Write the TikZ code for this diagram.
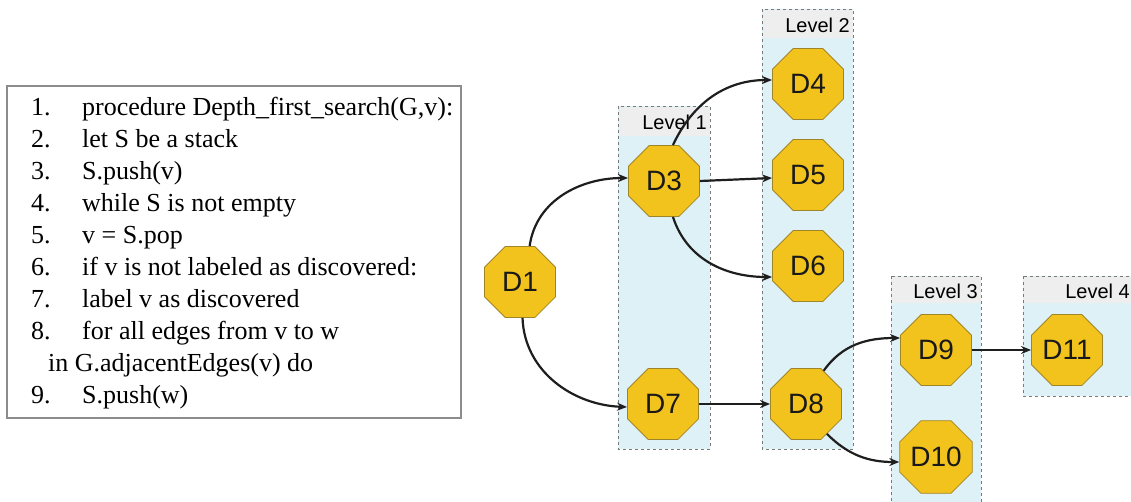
\documentclass[tikz,border=0pt]{standalone}
\usepackage{fontspec}
\setmainfont{Liberation Serif}
\setsansfont{Liberation Sans}
\usetikzlibrary{shapes.geometric,arrows.meta}
\definecolor{octfill}{HTML}{F3C31D}
\definecolor{octline}{HTML}{A08528}
\definecolor{lvlfill}{HTML}{DDF1F7}
\definecolor{lvlhead}{HTML}{EEEEEE}
\definecolor{lvlline}{HTML}{7A7A7A}
\definecolor{edgecol}{HTML}{1E1E1E}
\tikzset{
  oct/.style={regular polygon, regular polygon sides=8, minimum size=77pt, inner sep=0pt,
    fill=octfill, draw=octline, line width=0.8pt, text=black!90, font=\sffamily\fontsize{28}{28}\selectfont},
  lvlbox/.style={fill=lvlfill, draw=lvlline, dashed, line width=0.9pt},
  lvlhdr/.style={fill=lvlhead},
  lvltxt/.style={anchor=base east, inner sep=0pt, font=\sffamily\fontsize{20}{20}\selectfont},
  codeline/.style={anchor=base west, inner sep=0pt, font=\fontsize{26}{26}\selectfont},
  arr/.style={draw=edgecol, line width=2.2pt, -{Stealth[length=10pt,width=8pt]}},
  codebox/.style={draw=black!45, line width=1.2pt}
}
\begin{document}
\begin{tikzpicture}[x=1pt,y=1pt]
\useasboundingbox (0,0) rectangle (1131,-501);
% code box
\draw[codebox] (7,-86) rectangle (461,-418);
\foreach \n/\t/\y in {1/{procedure Depth\_first\_search(G,v):}/115, 2/{let S be a stack}/147, 3/{S.push(v)}/179, 4/{while S is not empty}/211, 5/{v = S.pop}/243, 6/{if v is not labeled as discovered:}/275, 7/{label v as discovered}/307, 8/{for all edges from v to w}/339, 9/{S.push(w)}/403}{
  \node[codeline] (num\n) at (31,-\y) {\n.};
  \node[codeline] (txt\n) at (82,-\y) {\t};
}
\node[codeline] (txt8b) at (48,-371) {in G.adjacentEdges(v) do};
% level boxes
\begin{scope}
\clip (0,0) rectangle (1131,-501);
\filldraw[lvlbox] (618,-106) rectangle (710,-449);
\fill[lvlhdr] (618.5,-106.5) rectangle (709.5,-136);
\draw[lvlline, dashed, line width=0.9pt] (618,-106) rectangle (710,-449);
\node[lvltxt] (L1) at (707,-129) {Level 1};
\filldraw[lvlbox] (762,-9) rectangle (853,-449);
\fill[lvlhdr] (762.5,-9.5) rectangle (852.5,-38);
\draw[lvlline, dashed, line width=0.9pt] (762,-9) rectangle (853,-449);
\node[lvltxt] (L2) at (850,-32) {Level 2};
\filldraw[lvlbox] (891,-276) rectangle (981,-515);
\fill[lvlhdr] (891.5,-276.5) rectangle (980.5,-303);
\draw[lvlline, dashed, line width=0.9pt] (891,-276) rectangle (981,-515);
\node[lvltxt] (L3) at (978,-298) {Level 3};
\filldraw[lvlbox] (1023,-276) rectangle (1145,-396);
\fill[lvlhdr] (1023.5,-276.5) rectangle (1144,-303);
\draw[lvlline, dashed, line width=0.9pt] (1023,-276) rectangle (1145,-396);
\node[lvltxt] (L4) at (1130,-298) {Level 4};
\end{scope}
% nodes
\node[oct] (D1) at (520,-282) {D1};
\node[oct] (D3) at (664,-181) {D3};
\node[oct] (D4) at (808,-84) {D4};
\node[oct] (D5) at (808,-175) {D5};
\node[oct] (D6) at (808,-266) {D6};
\node[oct] (D7) at (663,-404) {D7};
\node[oct] (D8) at (806,-404) {D8};
\node[oct] (D9) at (936,-350) {D9};
\node[oct] (D10) at (936,-457) {D10};
\node[oct] (D11) at (1067,-350) {D11};
% edges
\draw[arr] (D1.75) to[out=82,in=180] ([yshift=3pt]D3.west);
\draw[arr] (D1.-86) to[out=-88,in=178] ([yshift=-3pt]D7.west);
\draw[arr] (D3.76) to[out=65,in=180] ([yshift=4pt]D4.west);
\draw[arr] (D3.east) -- ([yshift=-3pt]D5.west);
\draw[arr] (D3.-76) to[out=-72,in=180] ([yshift=-11pt]D6.west);
\draw[arr] (D7.east) -- (D8.west);
\draw[arr] (D8.62) to[out=55,in=180] ([yshift=12pt]D9.west);
\draw[arr] (D8.-55) to[out=-45,in=180] ([yshift=-5pt]D10.west);
\draw[arr] (D9.east) -- (D11.west);
\end{tikzpicture}
\end{document}
